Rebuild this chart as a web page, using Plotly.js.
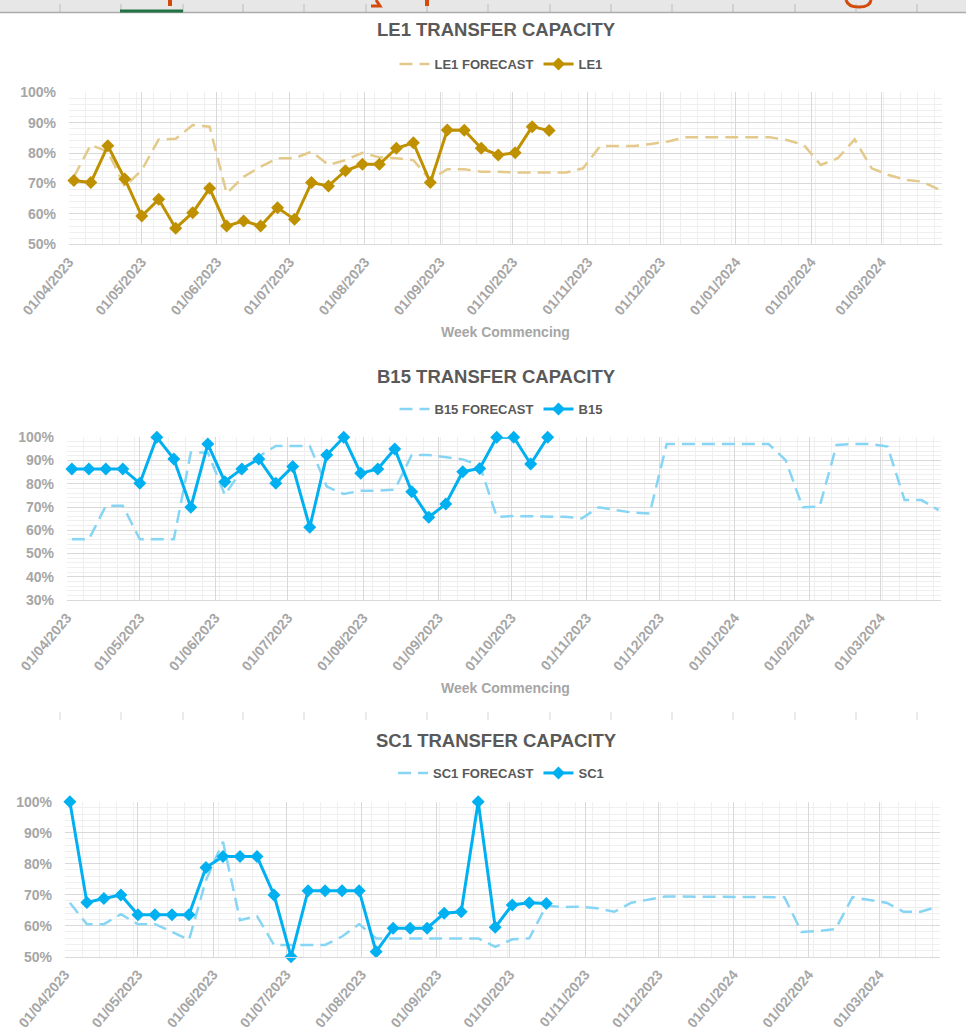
<!DOCTYPE html>
<html>
<head>
<meta charset="utf-8">
<script src="https://cdn.plot.ly/plotly-3.0.1.min.js"></script>
<style>html,body{margin:0;padding:0;background:#fff;}#chart{width:966px;height:1030px;}</style>
</head>
<body>
<div id="chart"></div>
<script>
// ---- DATA ----
const weeks = ['2023-04-03','2023-04-10','2023-04-17','2023-04-24','2023-05-01','2023-05-08','2023-05-15','2023-05-22','2023-05-29',
  '2023-06-05','2023-06-12','2023-06-19','2023-06-26','2023-07-03','2023-07-10','2023-07-17','2023-07-24','2023-07-31',
  '2023-08-07','2023-08-14','2023-08-21','2023-08-28','2023-09-04','2023-09-11','2023-09-18','2023-09-25',
  '2023-10-02','2023-10-09','2023-10-16','2023-10-23','2023-10-30','2023-11-06','2023-11-13','2023-11-20','2023-11-27',
  '2023-12-04','2023-12-11','2023-12-18','2023-12-25','2024-01-01','2024-01-08','2024-01-15','2024-01-22','2024-01-29',
  '2024-02-05','2024-02-12','2024-02-19','2024-02-26','2024-03-04','2024-03-11','2024-03-18','2024-03-25'];

const le1Forecast = [72.2,82.7,80.5,69,74.4,84.5,84.7,89.2,88.7,66.8,72.2,75.5,78.3,78.3,80.5,76.1,77.7,80.1,78.6,78.3,
  77.7,71.2,74.7,74.7,73.9,73.9,73.6,73.6,73.6,73.6,75,82.3,82.3,82.3,83,83.8,85.2,85.2,85.2,85.2,
  85.2,85.2,84.3,82.7,76.1,78.3,84.5,75,72.8,71.2,70.6,67.9];
const le1Actual = [71,70.3,82.4,71.5,59.3,64.8,55.3,60.4,68.4,56,57.7,56,62,58.2,70.3,69.2,74.2,76.3,76.3,81.6,
  83.4,70.3,87.6,87.5,81.6,79.4,80.1,88.7,87.4];

const b15Forecast = [56.1,56.1,70.5,70.5,56.1,56.1,56.1,93.5,93.5,75.2,85.9,91.7,96.3,96.3,96.3,78.8,75.6,77,77,77.5,
  92.4,92.4,91.5,90.5,88,65.8,66.1,66.1,66.1,65.8,65.1,69.9,68.7,67.6,67.2,97.1,97.1,97.1,97.1,97.1,
  97.1,97.1,90.2,69.9,70.2,96.7,97.1,97.1,96,73,73,68.7];
const b15Actual = [86.4,86.4,86.4,86.4,80.2,100,90.7,69.9,97.1,80.9,86.4,90.7,80.2,87.4,61.3,92.4,100,84.5,86.4,95,
  76.6,65.6,71.3,85.2,86.6,100,100,88.5,100];

const sc1Forecast = [67.4,60.5,60.5,63.7,60.5,60.5,58,55.4,74.7,87.1,61.8,63.1,53.8,53.8,53.8,53.8,56.5,60.5,55.9,55.9,
  55.9,55.9,55.9,55.9,55.9,53.2,55.6,55.9,66.4,66,66.1,65.6,64.5,67.4,68.3,69.4,69.4,69.4,69.4,69.4,
  69.4,69.4,69.2,58,58.3,58.9,69.2,68.3,67.4,64.5,64.5,66.1];
const sc1Actual = [100,67.5,68.8,69.9,63.5,63.5,63.5,63.5,78.8,82.3,82.3,82.3,69.9,50,71.3,71.3,71.3,71.3,51.6,59.2,
  59.2,59.2,64,64.5,100,59.5,66.7,67.4,67.2];

const chartTitles = ['LE1 TRANSFER CAPACITY','B15 TRANSFER CAPACITY','SC1 TRANSFER CAPACITY'];
const seriesNames = [['LE1 FORECAST','LE1'],['B15 FORECAST','B15'],['SC1 FORECAST','SC1']];
const xTitle = 'Week Commencing';

// ---- LAYOUT HELPERS ----
const W = 966, H = 1030;
const px = x => x / W;
const py = y => 1 - y / H;
const FONT = 'Liberation Sans Narrow, Arial Narrow, Liberation Sans, Arial, sans-serif';

const colors = [
  {fc:'#E3C98A', ac:'#BF9000'},
  {fc:'#86D5F4', ac:'#00B0F0'},
  {fc:'#86D5F4', ac:'#00B0F0'}
];
const forecasts = [le1Forecast, b15Forecast, sc1Forecast];
const actuals = [le1Actual, b15Actual, sc1Actual];
const legendIds = ['legend','legend2','legend3'];

const traces = [];
for (let i = 0; i < 3; i++) {
  const xa = i === 0 ? 'x' : 'x' + (i + 1);
  const ya = i === 0 ? 'y' : 'y' + (i + 1);
  traces.push({
    x: weeks, y: forecasts[i], name: seriesNames[i][0], type: 'scatter', mode: 'lines',
    xaxis: xa, yaxis: ya, legend: legendIds[i], cliponaxis: false,
    line: {color: colors[i].fc, width: 2.5, dash: '13px,7px'}
  });
  traces.push({
    x: weeks.slice(0, actuals[i].length), y: actuals[i], name: seriesNames[i][1], type: 'scatter', mode: 'lines+markers',
    xaxis: xa, yaxis: ya, legend: legendIds[i], cliponaxis: false,
    line: {color: colors[i].ac, width: 3},
    marker: {symbol: 'diamond', size: 10, color: colors[i].ac}
  });
}

const plots = [
  {x0: 69, x1: 942, y0: 92.3, y1: 244.3, ymin: 50, title: 30, legend: 64, xt: 332},
  {x0: 67, x1: 941, y0: 437.3, y1: 600, ymin: 30, title: 376, legend: 409, xt: 688},
  {x0: 65, x1: 940, y0: 801.7, y1: 956.7, ymin: 50, title: 740, legend: 773, xt: null}
];

const layout = {
  width: W, height: H,
  margin: {l: 0, r: 0, t: 0, b: 0, autoexpand: false},
  paper_bgcolor: '#ffffff', plot_bgcolor: '#ffffff',
  font: {family: FONT, color: '#595959'},
  showlegend: true,
  annotations: [], shapes: []
};

plots.forEach((p, i) => {
  const sx = i === 0 ? '' : String(i + 1);
  layout['xaxis' + sx] = {
    type: 'date', domain: [px(p.x0), px(p.x1)], anchor: 'y' + sx,
    range: ['2023-04-01', '2024-03-26'], dtick: 'M1', tick0: '2023-04-01',
    tickformat: '%d/%m/%Y', tickangle: -50, ticks: '', ticklabelstandoff: 3,
    tickfont: {family: FONT, size: 14, color: '#A6A6A6', weight: 'bold'},
    showgrid: true, gridcolor: '#D9D9D9', gridwidth: 1,
    minor: {dtick: 604800000, tick0: '2023-04-01', showgrid: true, gridcolor: '#EFEFEF', gridwidth: 1},
    showline: true, linecolor: '#D9D9D9', linewidth: 1, zeroline: false, fixedrange: true
  };
  layout['yaxis' + sx] = {
    domain: [py(p.y1), py(p.y0)], anchor: 'x' + sx,
    range: [p.ymin, 100], dtick: 10, ticksuffix: '%', ticks: '', ticklabelstandoff: 12,
    tickfont: {family: FONT, size: 14, color: '#A6A6A6', weight: 'bold'},
    showgrid: true, gridcolor: '#D9D9D9', gridwidth: 1,
    minor: {dtick: 2, showgrid: true, gridcolor: '#EFEFEF', gridwidth: 1},
    showline: false, zeroline: false, fixedrange: true
  };
  layout[legendIds[i]] = {
    orientation: 'h', x: px(501), xanchor: 'center', y: py(p.legend), yanchor: 'middle',
    font: {family: FONT, size: 13, color: '#595959', weight: 'bold'}, itemwidth: 30, bgcolor: 'rgba(0,0,0,0)',
    traceorder: 'normal', tracegroupgap: 0
  };
  layout.annotations.push({
    text: chartTitles[i], xref: 'paper', yref: 'paper', x: px(497), y: py(p.title),
    xanchor: 'center', yanchor: 'middle', showarrow: false,
    font: {family: FONT, size: 18.5, color: '#595959', weight: 'bold'}
  });
  if (p.xt !== null) {
    layout.annotations.push({
      text: xTitle, xref: 'paper', yref: 'paper', x: px(505), y: py(p.xt),
      xanchor: 'center', yanchor: 'middle', showarrow: false,
      font: {family: FONT, size: 14, color: '#A6A6A6', weight: 'bold'}
    });
  }
});

// ---- Spreadsheet chrome (decoration) ----
const colSeps = [60, 121, 183, 243, 304, 366, 427, 488, 550, 611, 672, 733, 795, 856, 917];
const S = layout.shapes;
S.push({type:'rect', xref:'paper', yref:'paper', x0:0, x1:1, y0:py(12), y1:1, fillcolor:'#E7E7E7', line:{width:0}, layer:'above'});
colSeps.forEach(c => {
  S.push({type:'line', xref:'paper', yref:'paper', x0:px(c), x1:px(c), y0:py(12), y1:py(4), line:{color:'#BDBDBD', width:1}, layer:'above'});
  S.push({type:'line', xref:'paper', yref:'paper', x0:px(c), x1:px(c), y0:py(720), y1:py(712), line:{color:'#D6D6D6', width:1}, layer:'above'});
});
S.push({type:'line', xref:'paper', yref:'paper', x0:0, x1:1, y0:py(12.5), y1:py(12.5), line:{color:'#ABABAB', width:1.5}, layer:'above'});
S.push({type:'rect', xref:'paper', yref:'paper', x0:px(120), x1:px(183), y0:py(12.5), y1:py(9.5), fillcolor:'#217346', line:{width:0}, layer:'above'});
// cut-off orange heading glyph fragments
const orange = '#D24A0C';
S.push({type:'rect', xref:'paper', yref:'paper', x0:px(168), x1:px(172), y0:py(6), y1:1, fillcolor:orange, line:{width:0}, layer:'above'});
S.push({type:'rect', xref:'paper', yref:'paper', x0:px(425), x1:px(429), y0:py(6), y1:1, fillcolor:orange, line:{width:0}, layer:'above'});
S.push({type:'path', xref:'paper', yref:'paper', path:'M '+px(376)+' 1 L '+px(380)+' '+py(6)+' L '+px(371)+' '+py(6), line:{color:orange, width:3}, layer:'above'});
S.push({type:'path', xref:'paper', yref:'paper', path:'M '+px(846)+' 1 Q '+px(848)+' '+py(7)+' '+px(859)+' '+py(7)+' Q '+px(870)+' '+py(7)+' '+px(871)+' 1', line:{color:orange, width:3}, layer:'above'});

Plotly.newPlot('chart', traces, layout, {staticPlot: true, displayModeBar: false});
</script>
</body>
</html>
